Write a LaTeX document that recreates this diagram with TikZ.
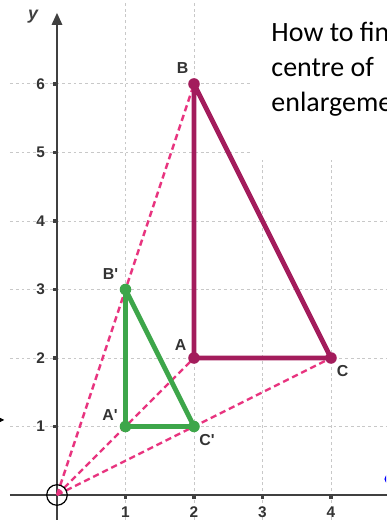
\documentclass[tikz,border=0pt]{standalone}
\usepackage{fontspec}
\setmainfont{Carlito}
\newfontfamily\labelfont{Liberation Sans}
\usetikzlibrary{arrows.meta}

\definecolor{bigtri}{HTML}{A31C5C}
\definecolor{smalltri}{HTML}{3DA64A}
\definecolor{rayline}{HTML}{E8347F}
\definecolor{axisgray}{HTML}{404040}
\definecolor{gridgray}{HTML}{C8C8C8}
\definecolor{labgray}{HTML}{333333}

\begin{document}
\begin{tikzpicture}[
    x=1cm,
    y=1cm,
    >=Stealth,
    gridline/.style={
        draw=gridgray,
        line width=0.4pt,
        dash pattern=on 1.2pt off 1.2pt
    },
    axisline/.style={
        draw=axisgray,
        line width=1pt
    },
    ray/.style={
        draw=rayline,
        line width=1pt,
        dash pattern=on 2.6pt off 1.6pt
    },
    bigedge/.style={
        draw=bigtri,
        line width=2pt,
        line join=round,
        line cap=round
    },
    smalledge/.style={
        draw=smalltri,
        line width=2pt,
        line join=round,
        line cap=round
    },
    vertex/.style={
        circle,
        inner sep=1.7pt
    },
    ptlabel/.style={
        font=\labelfont\bfseries\fontsize{6.6}{7}\selectfont,
        text=labgray,
        inner sep=0pt
    },
    ticklabel/.style={
        font=\labelfont\bfseries\fontsize{6.4}{7}\selectfont,
        text=labgray,
        inner sep=0pt
    },
    boxtext/.style={
        anchor=base west,
        inner sep=0pt,
        font=\fontsize{11.6}{14}\selectfont
    }
]

\useasboundingbox (-0.832,-0.365) rectangle (4.803,7.226);

% =====================================================
% Grid
% =====================================================

\foreach \k in {1,...,4}
  \draw[gridline] (\k,-0.365) -- (\k,7.3);
\foreach \k in {1,...,6}
  \draw[gridline] (-0.686,\k) -- (4.9,\k);

% white box behind the text
\fill[white] (2.82,4.89) rectangle (4.9,7.3);

% =====================================================
% Axes
% =====================================================

\coordinate (O) at (0,0);
\coordinate (Xstart) at (-0.686,0);
\coordinate (Xend) at (4.9,0);
\coordinate (Ybot) at (0,-0.4);
\coordinate (Ytop) at (0,7.04);

\draw[axisline] (Xstart) -- (Xend);
\draw[axisline, -{Triangle[length=5pt,width=4.2pt]}] (Ybot) -- (Ytop);
\node[font=\labelfont\bfseries\itshape\fontsize{7.4}{8}\selectfont, text=axisgray]
  (ylab) at (-0.35,6.98) {y};

\foreach \k in {1,...,4} {
  \fill[axisgray] (\k-0.027,-0.065) rectangle (\k+0.027,0);
  \node[ticklabel] (xt\k) at (\k,-0.25) {\k};
}
\foreach \k in {1,...,6} {
  \fill[axisgray] (-0.065,\k-0.027) rectangle (0,\k+0.027);
  \node[ticklabel] (yt\k) at (-0.24,\k) {\k};
}

% =====================================================
% Points
% =====================================================

\coordinate (A) at (2,2);
\coordinate (B) at (2,6);
\coordinate (C) at (4,2);

\coordinate (A1) at (1,1);
\coordinate (B1) at (1,3);
\coordinate (C1) at (2,1);

% =====================================================
% Rays from the centre
% =====================================================

\draw[ray] (O) -- (B);
\draw[ray] (O) -- (A);
\draw[ray] (O) -- (C);

% =====================================================
% Triangles
% =====================================================

\draw[bigedge] (A) -- (B) -- (C) -- cycle;
\draw[smalledge] (A1) -- (B1) -- (C1) -- cycle;

\node[vertex, fill=bigtri] at (A) {};
\node[vertex, fill=bigtri] at (B) {};
\node[vertex, fill=bigtri] at (C) {};
\node[vertex, fill=smalltri] at (A1) {};
\node[vertex, fill=smalltri] at (B1) {};
\node[vertex, fill=smalltri] at (C1) {};

\node[ptlabel] (labB) at (1.835,6.23) {B};
\node[ptlabel] (labA) at (1.806,2.19) {A};
\node[ptlabel] (labC) at (4.17,1.815) {C};
\node[ptlabel] (labB1) at (0.78,3.22) {B'};
\node[ptlabel] (labA1) at (0.774,1.168) {A'};
\node[ptlabel] (labC1) at (2.19,0.80) {C'};

% centre of enlargement
\draw[black, line width=0.5pt] (O) circle [radius=0.15];

% =====================================================
% Text and cut-off bits at the edges
% =====================================================

\begin{scope}
  \clip (-0.832,-0.365) rectangle (4.803,7.226);
  \node[boxtext] (line1) at (3.124,6.613) {How to find};
  \node[boxtext] (line2) at (3.124,6.105) {centre of};
  \node[boxtext] (line3) at (3.124,5.605) {enlargement};
  \fill[blue] (4.85,0.233) circle [radius=0.07];
  \coordinate (arrS) at (-0.95,1.095);
  \coordinate (arrE) at (-0.77,1.095);
  \draw[black, line width=0.4pt, -{Stealth[length=3pt,width=3pt]}] (arrS) -- (arrE);
\end{scope}

\end{tikzpicture}
\end{document}
